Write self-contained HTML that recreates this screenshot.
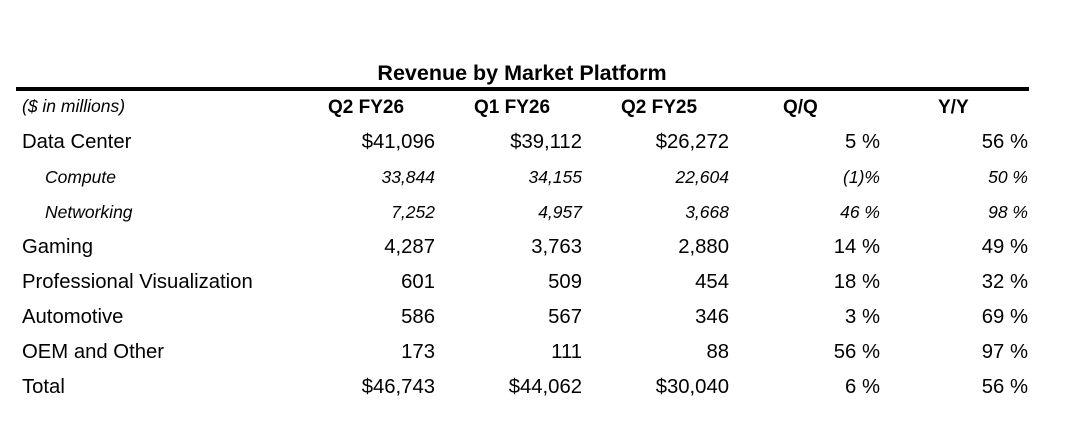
<!DOCTYPE html>
<html><head><meta charset="utf-8"><style>
body{margin:0;width:1080px;height:428px;background:#fff;position:relative;overflow:hidden;font-family:"Liberation Sans","DejaVu Sans",sans-serif;color:#000}
.t{position:absolute;white-space:nowrap;line-height:1}
.r{text-align:right}
.n{font-size:20.3px}
.i{font-size:17.5px;font-style:italic}
.h{font-size:19px;font-weight:bold}
</style></head><body>
<div class="t" style="left:0;width:1044px;text-align:center;top:63px;font-size:21.5px;font-weight:bold">Revenue by Market Platform</div>
<div style="position:absolute;left:16px;top:87px;width:1013px;height:4px;background:#000"></div>
<div class="t i" style="left:22px;top:98px">($ in millions)</div>
<div class="t h" style="left:328px;top:98px">Q2 FY26</div>
<div class="t h" style="left:474px;top:98px">Q1 FY26</div>
<div class="t h" style="left:621px;top:98px">Q2 FY25</div>
<div class="t h" style="left:783px;top:98px">Q/Q</div>
<div class="t h" style="left:938px;top:98px">Y/Y</div>
<div id="rows"></div>
<script>
var rows=[
["Data Center","$41,096","$39,112","$26,272","5 %","56 %",0,141],
["Compute","33,844","34,155","22,604","(1)%","50 %",1,177],
["Networking","7,252","4,957","3,668","46 %","98 %",1,212],
["Gaming","4,287","3,763","2,880","14 %","49 %",0,246],
["Professional Visualization","601","509","454","18 %","32 %",0,281],
["Automotive","586","567","346","3 %","69 %",0,316],
["OEM and Other","173","111","88","56 %","97 %",0,351],
["Total","$46,743","$44,062","$30,040","6 %","56 %",0,386]];
var rights=[435,582,729,880,1028],h="";
rows.forEach(function(r){
 var c=r[6]?"i":"n",top=r[7]-(r[6]?8:9),left=r[6]?45:22;
 h+='<div class="t '+c+'" style="left:'+left+'px;top:'+top+'px">'+r[0]+'</div>';
 for(var k=0;k<5;k++)h+='<div class="t r '+c+'" style="left:'+(rights[k]-140)+'px;width:140px;top:'+top+'px">'+r[k+1]+'</div>';
});
document.getElementById("rows").innerHTML=h;
</script>
</body></html>
